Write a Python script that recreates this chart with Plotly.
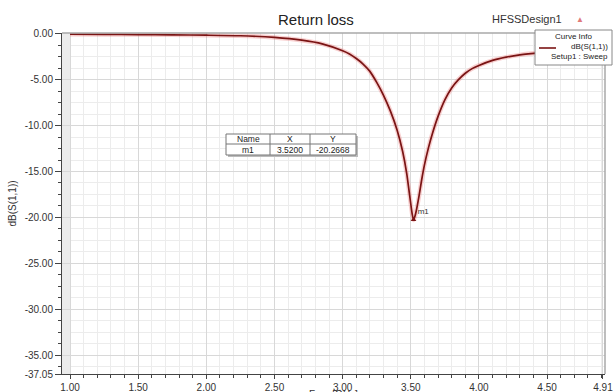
import plotly.graph_objects as go

# ---- data ----
freq_ghz = [1.00, 1.25, 1.50, 1.75, 2.00, 2.25, 2.50, 2.70, 2.85, 3.00, 3.05, 3.10, 3.15,
            3.20, 3.25, 3.30, 3.35, 3.40, 3.44, 3.47, 3.49, 3.51, 3.52, 3.53, 3.54, 3.56,
            3.58, 3.60, 3.63, 3.66, 3.70, 3.75, 3.80, 3.85, 3.90, 3.95, 4.00, 4.10, 4.20,
            4.30, 4.45, 4.60, 4.75, 4.91]
s11_db = [-0.05, -0.07, -0.09, -0.12, -0.16, -0.22, -0.40, -0.70, -1.10, -1.85, -2.20, -2.70, -3.30,
          -4.10, -5.30, -6.70, -8.40, -10.50, -12.80, -15.20, -17.40, -19.60, -20.27, -19.90, -19.30, -17.70,
          -15.90, -14.30, -12.40, -10.80, -9.00, -7.20, -5.90, -5.00, -4.30, -3.80, -3.45, -2.90, -2.55,
          -2.30, -2.05, -1.85, -1.70, -1.55]

marker_name = "m1"
marker_x = 3.5200
marker_y = -20.2668

x_tickvals = [1.00, 1.50, 2.00, 2.50, 3.00, 3.50, 4.00, 4.50, 4.91]
y_tickvals = [0.0, -5.0, -10.0, -15.0, -20.0, -25.0, -30.0, -35.0, -37.05]

title_text = "Return loss"
design_text = "HFSSDesign1"
legend_title = "Curve Info"
legend_lines = ["dB(S(1,1))", "Setup1 : Sweep"]

FONT = "Liberation Sans, Arial, sans-serif"
CURVE = "#7a1414"
fig = go.Figure()

# glow underlay
fig.add_trace(go.Scatter(x=freq_ghz, y=s11_db, mode="lines",
                         line=dict(color="rgba(235,120,120,0.35)", width=4.5, shape="spline", smoothing=0.6),
                         showlegend=False, hoverinfo="skip"))
fig.add_trace(go.Scatter(x=freq_ghz, y=s11_db, mode="lines", name=legend_lines[0],
                         line=dict(color=CURVE, width=1.7, shape="spline", smoothing=0.6),
                         showlegend=False))
# marker
fig.add_trace(go.Scatter(x=[marker_x], y=[marker_y], mode="markers+text",
                         marker=dict(symbol="triangle-up", size=5, color=CURVE),
                         text=[marker_name], textposition="top right",
                         textfont=dict(size=8, color="#333", family=FONT),
                         showlegend=False))

x_lo, x_hi = 0.941, 4.925
y_lo, y_hi = -37.05, 0.08

L, R, T, B = 62, 605, 33, 374
def px(x): return (x - L) / (R - L)
def py(y): return (B - y) / (B - T)

shapes = [
    dict(type="rect", xref="x", yref="y", x0=x_lo, x1=1.0, y0=y_lo, y1=y_hi,
         fillcolor="#ececec", line=dict(width=0), layer="below"),
    dict(type="line", xref="paper", yref="paper", x0=0, x1=1, y0=1, y1=1,
         line=dict(color="#a8a8a8", width=1.5)),
    dict(type="line", xref="paper", yref="paper", x0=1, x1=1, y0=0, y1=1,
         line=dict(color="#a8a8a8", width=1.5)),
]

# marker table
tx0, tx1, tx2, tx3 = 226, 270, 310, 356
ty0, ty1, ty2 = 134, 144, 155
shapes.append(dict(type="rect", xref="paper", yref="paper", x0=px(tx0 + 2), x1=px(tx3 + 2),
                   y0=py(ty2 + 2), y1=py(ty0 + 2), fillcolor="#bbbbbb", line=dict(width=0)))
shapes.append(dict(type="rect", xref="paper", yref="paper", x0=px(tx0), x1=px(tx3),
                   y0=py(ty2), y1=py(ty0), fillcolor="white", line=dict(color="#777", width=1)))
shapes.append(dict(type="line", xref="paper", yref="paper", x0=px(tx0), x1=px(tx3),
                   y0=py(ty1), y1=py(ty1), line=dict(color="#777", width=1)))
for cx in (tx1, tx2):
    shapes.append(dict(type="line", xref="paper", yref="paper", x0=px(cx), x1=px(cx),
                       y0=py(ty0), y1=py(ty2), line=dict(color="#777", width=1)))

annotations = []
cells = [("Name", "X", "Y"), (marker_name, f"{marker_x:.4f}", f"{marker_y:.4f}")]
cols = [(tx0 + tx1) / 2, (tx1 + tx2) / 2, (tx2 + tx3) / 2]
rows = [(ty0 + ty1) / 2, (ty1 + ty2) / 2]
for r, row in enumerate(cells):
    for c, val in enumerate(row):
        annotations.append(dict(xref="paper", yref="paper", x=px(cols[c]), y=py(rows[r]),
                                text=val, showarrow=False, xanchor="center", yanchor="middle",
                                font=dict(size=8.5, color="#222", family=FONT)))

# custom "Curve Info" legend box
lx0, lx1, ly0, ly1 = 535, 612, 30, 65
shapes.append(dict(type="rect", xref="paper", yref="paper", x0=px(lx0), x1=px(lx1),
                   y0=py(ly1), y1=py(ly0), fillcolor="white", line=dict(color="#888", width=1)))
shapes.append(dict(type="line", xref="paper", yref="paper", x0=px(539), x1=px(556),
                   y0=py(48), y1=py(48), line=dict(color=CURVE, width=1.6)))
annotations += [
    dict(xref="paper", yref="paper", x=px((lx0 + lx1) / 2), y=py(36.5), text=legend_title,
         showarrow=False, xanchor="center", yanchor="middle",
         font=dict(size=8, color="#222", family=FONT)),
    dict(xref="paper", yref="paper", x=px(610), y=py(47), text=legend_lines[0],
         showarrow=False, xanchor="right", yanchor="middle",
         font=dict(size=8, color="#222", family=FONT)),
    dict(xref="paper", yref="paper", x=px(610), y=py(56), text=legend_lines[1],
         showarrow=False, xanchor="right", yanchor="middle",
         font=dict(size=8, color="#222", family=FONT)),
]

annotations += [
    dict(xref="paper", yref="paper", x=px(316), y=py(19), text=title_text, showarrow=False,
         xanchor="center", yanchor="middle", font=dict(size=15, color="#222", family=FONT)),
    dict(xref="paper", yref="paper", x=px(527), y=py(19), text=design_text, showarrow=False,
         xanchor="center", yanchor="middle", font=dict(size=11, color="#333", family=FONT)),
    dict(xref="paper", yref="paper", x=px(580), y=py(19), text="▲", showarrow=False,
         xanchor="center", yanchor="middle", font=dict(size=8, color="#e07a7a", family=FONT)),
    dict(xref="paper", yref="paper", x=px(333), y=py(387), text="Freq [GHz]", showarrow=False,
         xanchor="center", yanchor="top", font=dict(size=10, color="#333", family=FONT)),
]

fig.update_layout(
    width=614, height=392,
    margin=dict(l=L, r=614 - R, t=T, b=392 - B, autoexpand=False),
    paper_bgcolor="white", plot_bgcolor="white",
    font=dict(family=FONT, size=10, color="#333"),
    showlegend=False,
    shapes=shapes, annotations=annotations,
)

fig.update_xaxes(range=[x_lo, x_hi], tickmode="array", tickvals=x_tickvals,
                 ticktext=[f"{v:.2f}" for v in x_tickvals],
                 showline=True, linecolor="#444", linewidth=1, ticks="outside",
                 ticklen=4, tickcolor="#444", showgrid=True, gridcolor="#d8d8d8", zeroline=False,
                 tickfont=dict(size=10, color="#333"),
                 minor=dict(tick0=1.0, dtick=0.1, ticks="outside", ticklen=3, tickcolor="#444",
                            showgrid=True, gridcolor="#ececec"))
fig.update_yaxes(range=[y_lo, y_hi], tickmode="array", tickvals=y_tickvals,
                 ticktext=[f"{v:.2f}" for v in y_tickvals],
                 showline=True, linecolor="#444", linewidth=1, ticks="outside",
                 ticklen=6, tickcolor="#444", showgrid=True, gridcolor="#d8d8d8", zeroline=False,
                 tickfont=dict(size=10, color="#333"),
                 title=dict(text="dB(S(1,1))", font=dict(size=10, color="#333"), standoff=6),
                 minor=dict(tick0=0.0, dtick=1.25, ticks="outside", ticklen=3, tickcolor="#444",
                            showgrid=True, gridcolor="#ececec"))

fig.write_html("out.html")
